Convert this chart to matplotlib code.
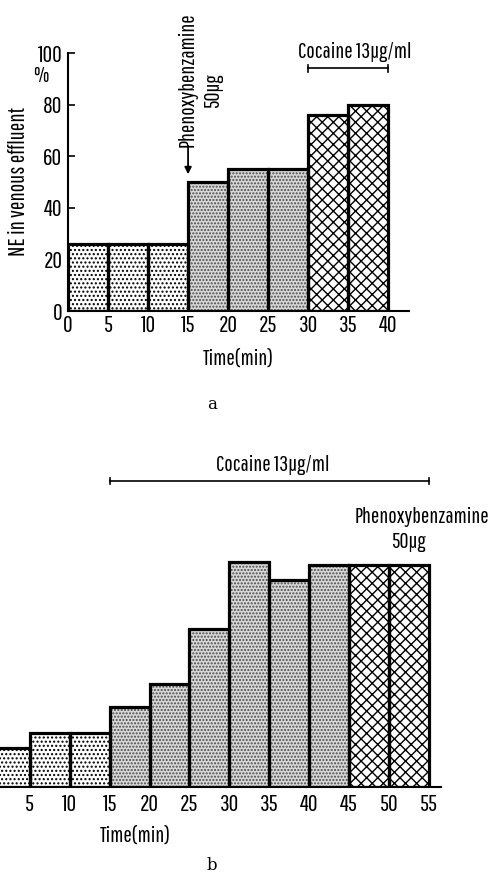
import matplotlib
matplotlib.use("Agg")
import matplotlib.pyplot as plt

# ---------------- data ----------------
a_start = [0, 5, 10, 15, 20, 25, 30, 35]
a_values = [26, 26, 26, 50, 55, 55, 76, 80]
a_groups = ["control", "control", "control", "pbz", "pbz", "pbz", "cocaine", "cocaine"]

b_start = [0, 5, 10, 15, 20, 25, 30, 35, 40, 45, 50]
b_values = [15, 21, 21, 31, 40, 61, 87, 80, 86, 86, 86]
b_groups = ["control", "control", "control", "cocaine", "cocaine", "cocaine",
            "cocaine", "cocaine", "cocaine", "pbz_after", "pbz_after"]

x_ticks_a = [0, 5, 10, 15, 20, 25, 30, 35, 40]
x_ticks_b = [5, 10, 15, 20, 25, 30, 35, 40, 45, 50, 55]
y_ticks_a = [0, 20, 40, 60, 80, 100]
bin_width = 5

# ---------------- fonts ----------------
plt.rcParams["font.family"] = ["Pathway Gothic One", "Barlow Condensed", "DejaVu Sans"]
plt.rcParams["hatch.linewidth"] = 1.0
FS = 16
TFS = 17

styles = {
    "control": dict(facecolor="white", hatch="....", hcolor="black"),
    "pbz": dict(facecolor="#d8d8d8", hatch=".....", hcolor="#4a4a4a"),
    "cocaine": dict(facecolor="white", hatch="xxx", hcolor="black"),
}
styles_b = {
    "control": styles["control"],
    "cocaine": styles["pbz"],
    "pbz_after": styles["cocaine"],
}

def draw_bars(ax, starts, values, groups, smap):
    for s, v, g in zip(starts, values, groups):
        st = smap[g]
        ax.bar(s, v, width=bin_width, align="edge", facecolor=st["facecolor"],
               hatch=st["hatch"], edgecolor=st["hcolor"], linewidth=0, zorder=2)
        ax.bar(s, v, width=bin_width, align="edge", facecolor="none",
               edgecolor="black", linewidth=2.3, zorder=3)

fig = plt.figure(figsize=(4.92, 8.77), dpi=100)

# ---------------- panel a ----------------
axa = fig.add_axes([68 / 492, (877 - 311) / 877, (409 - 68) / 492, 258 / 877])
draw_bars(axa, a_start, a_values, a_groups, styles)
axa.set_xlim(0, 42.6)
axa.set_ylim(0, 100)
for sp in ["top", "right"]:
    axa.spines[sp].set_visible(False)
axa.spines["left"].set_linewidth(1.5)
axa.spines["bottom"].set_linewidth(1.5)
axa.set_xticks(x_ticks_a)
axa.set_xticklabels([str(t) for t in x_ticks_a], fontsize=TFS)
axa.set_yticks(y_ticks_a)
axa.set_yticklabels([str(t) for t in y_ticks_a], fontsize=TFS)
axa.tick_params(axis="x", length=0, pad=3)
axa.tick_params(axis="y", direction="in", length=5, width=1.2, pad=4)
axa.set_xlabel("Time(min)", fontsize=FS, labelpad=9)
axa.set_ylabel("NE in venous effluent", fontsize=FS + 0.5, labelpad=6)
axa.text(-3.4, 91, "%", fontsize=FS, ha="center", va="center", clip_on=False)

# phenoxybenzamine annotation (panel a)
axa.annotate("", xy=(15, 53), xytext=(15, 64),
             arrowprops=dict(arrowstyle="-|>", color="black", lw=1.3,
                             mutation_scale=10, shrinkA=0, shrinkB=0),
             annotation_clip=False)
axa.text(15, 63.5, "Phenoxybenzamine", rotation=90, ha="center", va="bottom",
         fontsize=FS, clip_on=False)
axa.text(18.1, 85.3, "50μg", rotation=90, ha="center", va="center",
         fontsize=FS, clip_on=False)

# cocaine bracket (panel a)
axa.plot([30, 40], [94, 94], color="black", lw=1.2, clip_on=False)
axa.plot([30, 30], [92.8, 95.2], color="black", lw=1.2, clip_on=False)
axa.plot([40, 40], [92.8, 95.2], color="black", lw=1.2, clip_on=False)
axa.text(35.8, 100.5, "Cocaine 13μg/ml", ha="center", va="center",
         fontsize=FS, clip_on=False)

fig.text(212 / 492, 1 - 405 / 877, "a", fontsize=12, family="DejaVu Serif",
         ha="center", va="center")

# ---------------- panel b ----------------
axb = fig.add_axes([-10 / 492, (877 - 786.7) / 877, 450.7 / 492, 258 / 877])
draw_bars(axb, b_start, b_values, b_groups, styles_b)
axb.set_xlim(0, 56.5)
axb.set_ylim(0, 100)
for sp in ["top", "right", "left"]:
    axb.spines[sp].set_visible(False)
axb.spines["bottom"].set_linewidth(1.5)
axb.set_yticks([])
axb.set_xticks(x_ticks_b)
axb.set_xticklabels([str(t) for t in x_ticks_b], fontsize=TFS)
axb.tick_params(axis="x", length=0, pad=5)
axb.text(18.2, -19, "Time(min)", ha="center", va="center", fontsize=FS, clip_on=False)

axb.plot([15, 55], [118.5, 118.5], color="black", lw=1.2, clip_on=False)
axb.plot([15, 15], [117.3, 119.7], color="black", lw=1.2, clip_on=False)
axb.plot([55, 55], [117.3, 119.7], color="black", lw=1.2, clip_on=False)
axb.text(35.5, 124.7, "Cocaine 13μg/ml", ha="center", va="center",
         fontsize=FS, clip_on=False)
axb.text(54.1, 104.7, "Phenoxybenzamine", ha="center", va="center",
         fontsize=FS, clip_on=False)
axb.text(52.4, 95, "50μg", ha="center", va="center", fontsize=FS, clip_on=False)

fig.text(212 / 492, 1 - 866 / 877, "b", fontsize=12, family="DejaVu Serif",
         ha="center", va="center")

fig.savefig("out.png", dpi=100)
